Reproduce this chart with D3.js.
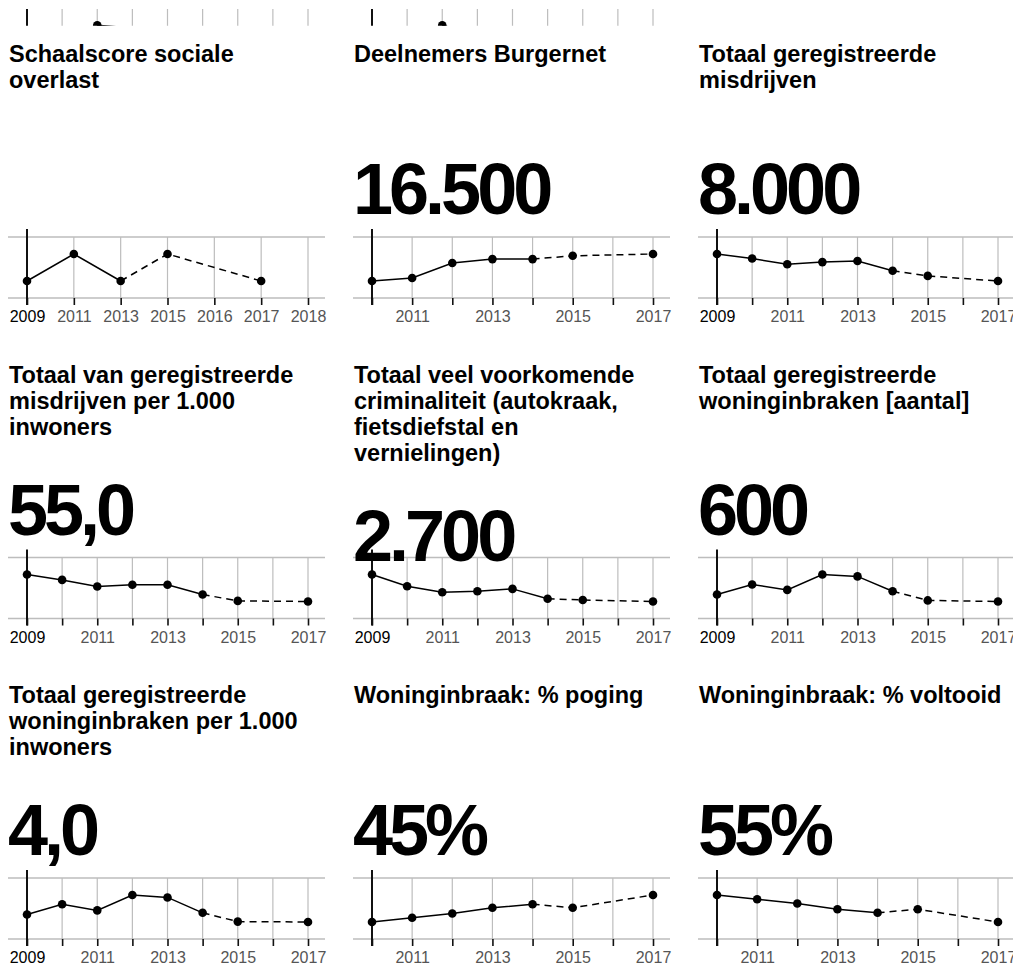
<!DOCTYPE html>
<html><head><meta charset="utf-8">
<script src="https://cdn.jsdelivr.net/npm/d3@7"></script>
<style>
body{margin:0;background:#fff;}
svg{display:block;font-family:"Liberation Sans",Arial,Helvetica,sans-serif;}
.tick text{font-size:16px;font-family:"Liberation Sans",Arial,Helvetica,sans-serif;}
</style>
</head><body>
<svg id="chart" width="1013" height="966"></svg>
<script>
// ---------- data ----------
const titles = [
  ["Schaalscore sociale", "overlast"],
  ["Deelnemers Burgernet"],
  ["Totaal geregistreerde", "misdrijven"],
  ["Totaal van geregistreerde", "misdrijven per 1.000", "inwoners"],
  ["Totaal veel voorkomende", "criminaliteit (autokraak,", "fietsdiefstal en", "vernielingen)"],
  ["Totaal geregistreerde", "woninginbraken [aantal]"],
  ["Totaal geregistreerde", "woninginbraken per 1.000", "inwoners"],
  ["Woninginbraak: % poging"],
  ["Woninginbraak: % voltooid"]
];
const bigNumbers = ["", "16.500", "8.000", "55,0", "2.700", "600", "4,0", "45%", "55%"];

const overlastCategories = ["2009", "2011", "2013", "2015", "2016", "2017", "2018"];
const overlastYears = ["2009", "2011", "2013", "2015", "2017"];
const overlastValues = [2.4, 2.6, 2.4, 2.6, 2.4];

const years2009 = [2009, 2010, 2011, 2012, 2013, 2014, 2015, 2017];
const years2010 = [2010, 2011, 2012, 2013, 2014, 2015, 2017];

const burgernetValues = [12000, 12500, 15000, 15650, 15650, 16200, 16500];
const misdrijvenValues = [10600, 10160, 9610, 9820, 9920, 8990, 8490, 8000];
const misdrijvenPer1000Values = [73.0, 69.4, 65.0, 66.2, 66.2, 59.7, 55.4, 55.0];
const veelVoorkomendValues = [3600, 3210, 3010, 3040, 3120, 2790, 2750, 2700];
const woninginbrakenValues = [678, 789, 729, 900, 879, 714, 612, 600];
const woninginbrakenPer1000Values = [4.56, 5.32, 4.86, 6.0, 5.82, 4.68, 4.03, 4.0];
const pogingValues = [38.0, 39.1, 40.2, 41.7, 42.6, 41.7, 45.0];
const voltooidValues = [62.0, 60.9, 59.8, 58.3, 57.4, 58.3, 55.0];

// last year of the solid (measured) part of each line
const lastMeasuredYears = [2013, 2014, 2014, 2014, 2014, 2014, 2014, 2014, 2014];

// partially visible previous row at the top
const stripYears = [2011, 2012];
const stripValuesLeft = [5.0, 4.65];
const stripValuesRight = [5.0, 3.8];

// ---------- layout ----------
const svg = d3.select("#chart");
const colX = [8, 353, 698];
const rowY = [0, 320.5, 641];
const panelW = 317;
const plotL = 19, plotR = 300;
const gridTop = 237, gridBot = 298;

const series = [
  {kind: "point", cats: overlastCategories, years: overlastYears, values: overlastValues},
  {kind: "lin", domain: [2010, 2017], years: years2010, values: burgernetValues},
  {kind: "lin", domain: [2009, 2017], years: years2009, values: misdrijvenValues},
  {kind: "lin", domain: [2009, 2017], years: years2009, values: misdrijvenPer1000Values},
  {kind: "lin", domain: [2009, 2017], years: years2009, values: veelVoorkomendValues},
  {kind: "lin", domain: [2009, 2017], years: years2009, values: woninginbrakenValues},
  {kind: "lin", domain: [2009, 2017], years: years2009, values: woninginbrakenPer1000Values},
  {kind: "lin", domain: [2010, 2017], years: years2010, values: pogingValues},
  {kind: "lin", domain: [2010, 2017], years: years2010, values: voltooidValues}
];

const gridColor = "#bdbdbd";

// ---------- top strip (clipped previous row) ----------
svg.append("clipPath").attr("id", "stripClip")
  .append("rect").attr("x", 0).attr("y", 0).attr("width", 1013).attr("height", 25.8);
[stripValuesLeft, stripValuesRight].forEach((vals, ci) => {
  const g = svg.append("g").attr("transform", `translate(${colX[ci]},0)`)
    .attr("clip-path", "url(#stripClip)");
  const x = d3.scaleLinear().domain([2009, 2017]).range([plotL, plotR]);
  const y = d3.scaleLinear().domain([4, 5]).range([33, 25.3]);
  const ticks = d3.range(2009, 2018);
  g.selectAll("line.v").data(ticks).join("line")
    .attr("x1", d => x(d)).attr("x2", d => x(d))
    .attr("y1", 9).attr("y2", 40)
    .attr("stroke", (d, i) => i === 0 ? "#111" : gridColor)
    .attr("stroke-width", (d, i) => i === 0 ? 2 : 1.2);
  const pts = stripYears.map((yr, i) => [x(yr), y(vals[i])]);
  g.append("path").attr("d", d3.line()(pts)).attr("fill", "none")
    .attr("stroke", "#000").attr("stroke-width", 1.5);
  g.append("circle").attr("cx", pts[0][0]).attr("cy", pts[0][1]).attr("r", 4.3).attr("fill", "#000");
});

// ---------- panels ----------
series.forEach((s, idx) => {
  const ci = idx % 3, ri = Math.floor(idx / 3);
  const g = svg.append("g").attr("transform", `translate(${colX[ci]},${rowY[ri]})`);

  let x, tickVals, labelOf;
  if (s.kind === "point") {
    x = d3.scalePoint().domain(s.cats).range([plotL, plotR]);
    tickVals = s.cats;
    labelOf = d => d;
  } else {
    x = d3.scaleLinear().domain(s.domain).range([plotL, plotR]);
    tickVals = d3.range(s.domain[0], s.domain[1] + 1);
    labelOf = d => (d % 2 === 1 ? String(d) : "");
  }
  const y = d3.scaleLinear().domain(d3.extent(s.values)).range([gridBot - 17, gridTop + 17]);

  const chart = g.append("g");
  chart.selectAll("line.h").data([gridTop, gridBot]).join("line")
    .attr("x1", 0).attr("x2", panelW).attr("y1", d => d).attr("y2", d => d)
    .attr("stroke", gridColor).attr("stroke-width", 1.3);
  chart.selectAll("line.v").data(tickVals.slice(1)).join("line")
    .attr("x1", d => x(d)).attr("x2", d => x(d))
    .attr("y1", gridTop).attr("y2", gridBot)
    .attr("stroke", gridColor).attr("stroke-width", 1.2);

  const axis = d3.axisBottom(x).tickValues(tickVals).tickSize(7).tickPadding(6)
    .tickFormat(labelOf);
  const ag = chart.append("g").attr("transform", `translate(0,${gridBot})`).call(axis);
  ag.attr("font-size", null).attr("font-family", null);
  ag.select(".domain").remove();
  ag.selectAll(".tick line").attr("stroke", "#111").attr("stroke-width", 1.6);
  ag.selectAll(".tick text")
    .style("font-size", "16px")
    .attr("fill", (d, i) => i === 0 ? "#000" : "#555");

  chart.append("line")
    .attr("x1", x(tickVals[0])).attr("x2", x(tickVals[0]))
    .attr("y1", gridTop - 8).attr("y2", gridBot + 7)
    .attr("stroke", "#111").attr("stroke-width", 2);

  const last = lastMeasuredYears[idx];
  const pts = s.years.map((yr, i) => ({yr: +yr, px: x(yr), py: y(s.values[i])}));
  const line = d3.line().x(d => d.px).y(d => d.py);
  chart.append("path").attr("d", line(pts.filter(p => p.yr <= last)))
    .attr("fill", "none").attr("stroke", "#000").attr("stroke-width", 1.5);
  chart.append("path").attr("d", line(pts.filter(p => p.yr >= last)))
    .attr("fill", "none").attr("stroke", "#000").attr("stroke-width", 1.5)
    .attr("stroke-dasharray", "7,5");
  chart.selectAll("circle").data(pts).join("circle")
    .attr("cx", d => d.px).attr("cy", d => d.py).attr("r", 4.3).attr("fill", "#000");

  const lines = titles[idx];
  g.selectAll("text.title").data(lines).join("text")
    .attr("class", "title")
    .attr("x", 1).attr("y", (d, i) => 62 + i * 26)
    .attr("font-size", 23.5).attr("font-weight", "bold").attr("fill", "#000")
    .text(d => d);

  if (bigNumbers[idx]) {
    g.append("text")
      .attr("x", 0).attr("y", 62 + (Math.max(lines.length, 3) - 1) * 26 + 100)
      .attr("font-size", 72).attr("font-weight", "bold").attr("fill", "#000")
      .attr("letter-spacing", "-4px")
      .text(bigNumbers[idx]);
  }
});
</script>
</body></html>
